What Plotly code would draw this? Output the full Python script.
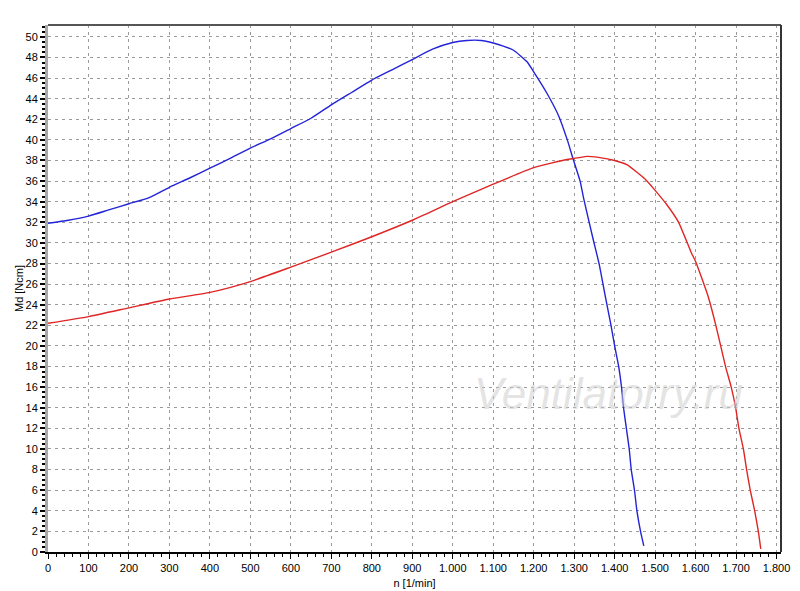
import plotly.graph_objects as go

# Blue curve (higher torque, lower speed)
blue_n = [0, 50, 100, 150, 200, 250, 300, 350, 400, 450, 500, 550, 600, 650, 700, 750,
          800, 850, 900, 950, 1000, 1035, 1070, 1100, 1125, 1150, 1183, 1200, 1233, 1262,
          1283, 1297, 1315, 1323, 1346, 1362, 1376, 1391, 1400, 1410, 1417, 1422, 1429,
          1436, 1441, 1449, 1455, 1464, 1472]
blue_md = [31.9, 32.2, 32.6, 33.2, 33.8, 34.4, 35.4, 36.3, 37.25, 38.2, 39.2, 40.1, 41.1,
           42.1, 43.4, 44.6, 45.8, 46.8, 47.8, 48.8, 49.45, 49.65, 49.65, 49.4, 49.1, 48.7,
           47.6, 46.6, 44.5, 42.3, 40.0, 38.2, 35.95, 34.4, 30.5, 27.9, 25.0, 22.0, 20.0,
           18.0, 16.0, 14.0, 12.0, 10.0, 8.0, 6.0, 4.0, 2.0, 0.6]

# Red curve
red_n = [0, 100, 200, 300, 400, 500, 600, 700, 800, 900, 1000, 1100, 1200, 1282, 1300,
         1331, 1360, 1400, 1430, 1475, 1500, 1529, 1558, 1590, 1600, 1631, 1650, 1662,
         1674, 1688, 1699, 1707, 1718, 1726, 1735, 1746, 1755, 1761]
red_md = [22.2, 22.85, 23.7, 24.55, 25.2, 26.25, 27.65, 29.1, 30.6, 32.2, 34.0, 35.7, 37.3,
          38.1, 38.2, 38.4, 38.3, 38.0, 37.6, 36.2, 35.1, 33.7, 32.0, 29.0, 28.2, 24.8,
          22.0, 20.0, 18.0, 16.0, 14.0, 12.0, 10.0, 8.0, 6.0, 4.0, 2.0, 0.3]

fig = go.Figure()

fig.add_trace(go.Scatter(x=blue_n, y=blue_md, mode='lines',
                         line=dict(color='#2323d8', width=1.4, shape='spline', smoothing=0.5),
                         showlegend=False))
fig.add_trace(go.Scatter(x=red_n, y=red_md, mode='lines',
                         line=dict(color='#e02525', width=1.4, shape='spline', smoothing=0.5),
                         showlegend=False))

grid_color = '#9a9a9a'

# page body adds ~8px offset, margins compensate for it
fig.update_layout(
    width=800, height=591,
    margin=dict(l=40, r=27, t=17, b=47),
    plot_bgcolor='white', paper_bgcolor='white',
    font=dict(family='Liberation Sans, Arial', size=11, color='black'),
    separators=',.',
    xaxis=dict(
        range=[0, 1811], dtick=100, tick0=0, tickformat=',d', automargin=False,
        showline=True, linecolor='black', linewidth=2,
        ticks='outside', ticklen=5, tickwidth=1, tickcolor='black',
        showgrid=True, gridcolor=grid_color, griddash='3px,4px', gridwidth=1,
        minor=dict(dtick=20, ticks='outside', ticklen=3, tickcolor='black', showgrid=False),
        zeroline=False,
        title=dict(text='n [1/min]', font=dict(size=11), standoff=6),
    ),
    yaxis=dict(
        range=[0, 51.15], dtick=2, tick0=0, automargin=False,
        showline=True, linecolor='#a8a8a8', linewidth=3,
        ticks='outside', ticklen=5, tickwidth=2, tickcolor='black',
        showgrid=True, gridcolor=grid_color, griddash='3px,4px', gridwidth=1,
        minor=dict(dtick=0.5, ticks='outside', ticklen=3, tickcolor='black', showgrid=False),
        zeroline=False,
        title=dict(text='Md [Ncm]', font=dict(size=11), standoff=0),
    ),
    shapes=[
        dict(type='line', xref='paper', yref='paper', x0=0, x1=1, y0=1, y1=1,
             line=dict(color='#555555', width=2)),
        dict(type='line', xref='paper', yref='paper', x0=1, x1=1, y0=0, y1=1,
             line=dict(color='#333333', width=2)),
    ],
    annotations=[
        dict(text='<i>Ventilatorry.ru</i>', x=0.765, y=0.3, xref='paper', yref='paper',
             xanchor='center', yanchor='middle', showarrow=False,
             font=dict(family='Liberation Sans, Arial', size=44, color='rgba(205,205,205,0.55)')),
    ],
)

fig.write_html("out.html")
